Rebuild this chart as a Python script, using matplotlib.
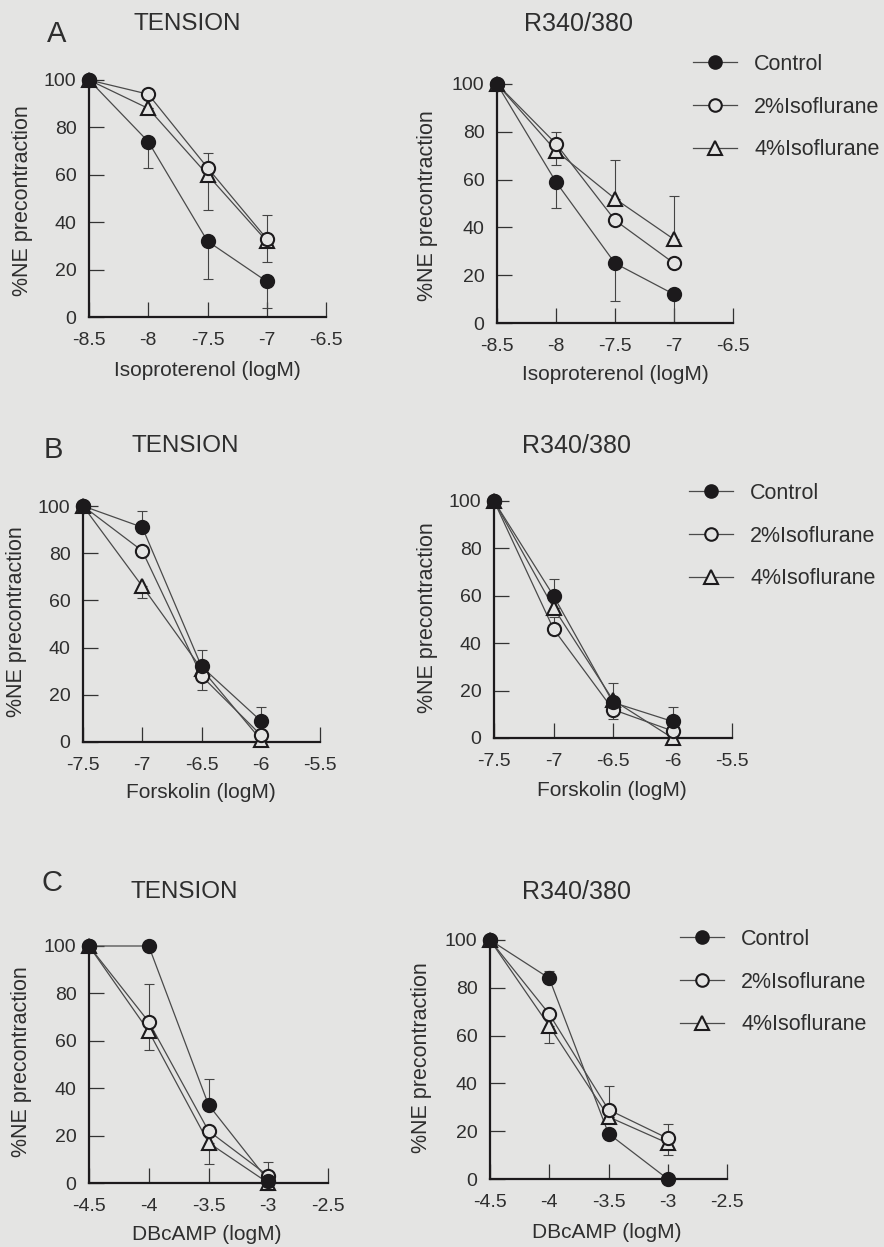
import matplotlib
matplotlib.use("Agg")
import matplotlib.pyplot as plt
import numpy as np

plt.rcParams['font.family'] = ['Liberation Sans', 'DejaVu Sans']

BG = '#e4e4e3'
INK = '#1c1a1c'
TXT = '#2e2e2e'

series_names = ['Control', '2%Isoflurane', '4%Isoflurane']

# ---------------- Panel A: Isoproterenol ----------------
iso_x = [-8.5, -8.0, -7.5, -7.0]
iso_ticks = [-8.5, -8, -7.5, -7, -6.5]
iso_tick_labels = ['-8.5', '-8', '-7.5', '-7', '-6.5']

a_ten_ctrl = [100, 74, 32, 15]
a_ten_ctrl_lo = [0, 11, 16, 11]
a_ten_ctrl_hi = [0, 0, 0, 0]
a_ten_iso2 = [100, 94, 63, 33]
a_ten_iso2_lo = [0, 0, 0, 0]
a_ten_iso2_hi = [0, 0, 6, 10]
a_ten_iso4 = [100, 88, 60, 32]
a_ten_iso4_lo = [0, 0, 15, 9]
a_ten_iso4_hi = [0, 0, 0, 0]

a_rat_ctrl = [100, 59, 25, 12]
a_rat_ctrl_lo = [0, 11, 16, 12]
a_rat_ctrl_hi = [0, 0, 0, 0]
a_rat_iso2 = [100, 75, 43, 25]
a_rat_iso2_lo = [0, 0, 0, 0]
a_rat_iso2_hi = [0, 5, 0, 0]
a_rat_iso4 = [100, 72, 52, 35]
a_rat_iso4_lo = [0, 6, 0, 0]
a_rat_iso4_hi = [0, 0, 16, 18]

# ---------------- Panel B: Forskolin ----------------
fsk_x = [-7.5, -7.0, -6.5, -6.0]
fsk_ticks = [-7.5, -7, -6.5, -6, -5.5]
fsk_tick_labels = ['-7.5', '-7', '-6.5', '-6', '-5.5']

b_ten_ctrl = [100, 91, 32, 9]
b_ten_ctrl_lo = [0, 0, 0, 0]
b_ten_ctrl_hi = [0, 7, 7, 6]
b_ten_iso2 = [100, 81, 28, 3]
b_ten_iso2_lo = [0, 0, 6, 0]
b_ten_iso2_hi = [0, 0, 0, 0]
b_ten_iso4 = [100, 66, 31, 1]
b_ten_iso4_lo = [0, 5, 0, 0]
b_ten_iso4_hi = [0, 0, 0, 0]

b_rat_ctrl = [100, 60, 15, 7]
b_rat_ctrl_lo = [0, 0, 0, 0]
b_rat_ctrl_hi = [0, 7, 0, 6]
b_rat_iso2 = [100, 46, 12, 3]
b_rat_iso2_lo = [0, 0, 4, 0]
b_rat_iso2_hi = [0, 5, 0, 0]
b_rat_iso4 = [100, 55, 16, 0]
b_rat_iso4_lo = [0, 0, 0, 0]
b_rat_iso4_hi = [0, 0, 7, 0]

# ---------------- Panel C: DBcAMP ----------------
db_x = [-4.5, -4.0, -3.5, -3.0]
db_ticks = [-4.5, -4, -3.5, -3, -2.5]
db_tick_labels = ['-4.5', '-4', '-3.5', '-3', '-2.5']

c_ten_ctrl = [100, 100, 33, 1]
c_ten_ctrl_lo = [0, 0, 0, 0]
c_ten_ctrl_hi = [0, 0, 11, 0]
c_ten_iso2 = [100, 68, 22, 3]
c_ten_iso2_lo = [0, 0, 0, 0]
c_ten_iso2_hi = [0, 16, 0, 6]
c_ten_iso4 = [100, 64, 17, 0]
c_ten_iso4_lo = [0, 8, 9, 3]
c_ten_iso4_hi = [0, 0, 0, 0]

c_rat_ctrl = [100, 84, 19, 0]
c_rat_ctrl_lo = [0, 0, 0, 0]
c_rat_ctrl_hi = [0, 3, 0, 0]
c_rat_iso2 = [100, 69, 29, 17]
c_rat_iso2_lo = [0, 0, 0, 0]
c_rat_iso2_hi = [0, 0, 10, 6]
c_rat_iso4 = [100, 64, 26, 15]
c_rat_iso4_lo = [0, 7, 0, 5]
c_rat_iso4_hi = [0, 0, 0, 0]

y_ticks = [0, 20, 40, 60, 80, 100]

W, H = 884, 1247
fig = plt.figure(figsize=(W / 100, H / 100), dpi=100, facecolor=BG)


def px_axes(x0, x1, y0, y1):
    # y0 = pixel row of value 0, y1 = pixel row of value 100
    return fig.add_axes([x0 / W, 1 - y0 / H, (x1 - x0) / W, (y0 - y1) / H])


styles = [
    dict(marker='o', mfc=INK, mec=INK, ms=9.5),
    dict(marker='o', mfc=BG, mec=INK, ms=9.5),
    dict(marker='^', mfc=BG, mec=INK, ms=10),
]


def draw_panel(ax, x, ticks, tick_labels, data, xlabel):
    ax.set_facecolor('none')
    for i, (y, lo, hi) in enumerate(data):
        ax.errorbar(x, y, yerr=[lo, hi], fmt='none', ecolor='#444444',
                    elinewidth=0.8, capsize=3.6, capthick=0.8, clip_on=False,
                    zorder=2)
        ax.plot(x, y, '-', color='#4a4a4a', lw=0.9, clip_on=False, zorder=3)
    for i, (y, lo, hi) in enumerate(data):
        st = styles[i]
        ax.plot(x, y, linestyle='none', marker=st['marker'],
                markerfacecolor=st['mfc'], markeredgecolor=st['mec'],
                markersize=st['ms'], markeredgewidth=1.5, clip_on=False,
                zorder=4 + (2 - i))
    ax.set_xlim(ticks[0], ticks[-1])
    ax.set_ylim(0, 100)
    ax.set_xticks(ticks)
    ax.set_xticklabels(tick_labels)
    ax.set_yticks(y_ticks)
    ax.set_yticklabels([str(v) for v in y_ticks])
    for s in ['top', 'right']:
        ax.spines[s].set_visible(False)
    for s in ['left', 'bottom']:
        ax.spines[s].set_linewidth(1.6)
        ax.spines[s].set_color(INK)
    ax.tick_params(direction='in', length=11, width=0.9, color='#333333',
                   labelsize=14, labelcolor=TXT, pad=9)
    ax.tick_params(axis='x', pad=11)
    ax.set_xlabel(xlabel, fontsize=15, color=TXT)
    ax.set_ylabel('%NE precontraction', fontsize=15.5, color=TXT)


def place_labels(ax, box, xl_px, yl_px):
    x0, x1, y0, y1 = box
    w = x1 - x0
    h = y0 - y1
    ax.xaxis.set_label_coords((xl_px[0] - x0) / w, (y0 - xl_px[1]) / h)
    ax.yaxis.set_label_coords((yl_px[0] - x0) / w, (y0 - yl_px[1]) / h)
    ax.xaxis.label.set_va('center')
    ax.yaxis.label.set_va('center')


def legend(ax, fx, fy):
    from matplotlib.lines import Line2D
    handles = []
    for st in styles:
        handles.append(Line2D([0], [0], color='#4a4a4a', lw=0.9,
                              marker=st['marker'], markerfacecolor=st['mfc'],
                              markeredgecolor=st['mec'], markersize=st['ms'] * 0.95,
                              markeredgewidth=1.5))
    leg = ax.legend(handles, series_names, loc='upper left',
                    bbox_to_anchor=(fx / W, 1 - fy / H),
                    bbox_transform=fig.transFigure, frameon=False,
                    fontsize=15.5, handlelength=2.05, handletextpad=0.8,
                    labelspacing=1.0, borderpad=0, borderaxespad=0)
    for t in leg.get_texts():
        t.set_color(TXT)


panels = [
    ((89, 326, 317, 80), iso_x, iso_ticks, iso_tick_labels,
     [(a_ten_ctrl, a_ten_ctrl_lo, a_ten_ctrl_hi),
      (a_ten_iso2, a_ten_iso2_lo, a_ten_iso2_hi),
      (a_ten_iso4, a_ten_iso4_lo, a_ten_iso4_hi)],
     'Isoproterenol (logM)', (207, 370), (23, 201)),
    ((497, 733, 323, 84), iso_x, iso_ticks, iso_tick_labels,
     [(a_rat_ctrl, a_rat_ctrl_lo, a_rat_ctrl_hi),
      (a_rat_iso2, a_rat_iso2_lo, a_rat_iso2_hi),
      (a_rat_iso4, a_rat_iso4_lo, a_rat_iso4_hi)],
     'Isoproterenol (logM)', (615, 374), (428, 206)),
    ((83, 320, 742, 506), fsk_x, fsk_ticks, fsk_tick_labels,
     [(b_ten_ctrl, b_ten_ctrl_lo, b_ten_ctrl_hi),
      (b_ten_iso2, b_ten_iso2_lo, b_ten_iso2_hi),
      (b_ten_iso4, b_ten_iso4_lo, b_ten_iso4_hi)],
     'Forskolin (logM)', (201, 792), (17, 622)),
    ((494, 732, 738, 501), fsk_x, fsk_ticks, fsk_tick_labels,
     [(b_rat_ctrl, b_rat_ctrl_lo, b_rat_ctrl_hi),
      (b_rat_iso2, b_rat_iso2_lo, b_rat_iso2_hi),
      (b_rat_iso4, b_rat_iso4_lo, b_rat_iso4_hi)],
     'Forskolin (logM)', (612, 791), (427, 618)),
    ((89, 328, 1183, 946), db_x, db_ticks, db_tick_labels,
     [(c_ten_ctrl, c_ten_ctrl_lo, c_ten_ctrl_hi),
      (c_ten_iso2, c_ten_iso2_lo, c_ten_iso2_hi),
      (c_ten_iso4, c_ten_iso4_lo, c_ten_iso4_hi)],
     'DBcAMP (logM)', (207, 1234), (22, 1062)),
    ((490, 727, 1179, 940), db_x, db_ticks, db_tick_labels,
     [(c_rat_ctrl, c_rat_ctrl_lo, c_rat_ctrl_hi),
      (c_rat_iso2, c_rat_iso2_lo, c_rat_iso2_hi),
      (c_rat_iso4, c_rat_iso4_lo, c_rat_iso4_hi)],
     'DBcAMP (logM)', (607, 1233), (422, 1058)),
]

axes = []
for box, x, ticks, tl, data, xl, xlp, ylp in panels:
    ax = px_axes(*box)
    draw_panel(ax, x, ticks, tl, data, xl)
    place_labels(ax, box, xlp, ylp)
    axes.append(ax)

legend(axes[1], 693, 54)
legend(axes[3], 689, 483)
legend(axes[5], 680, 929)


def ftext(x, y, s, size):
    fig.text(x / W, 1 - y / H, s, fontsize=size, color=TXT,
             ha='center', va='center')


for letter, lx, ly, ty, tx_t, tx_r in [('A', 57, 34, 24, 187, 579),
                                       ('B', 53, 450, 446, 185, 577),
                                       ('C', 52, 883, 892, 184, 577)]:
    ftext(lx, ly, letter, 21)
    ftext(tx_t, ty, 'TENSION', 17.5)
    ftext(tx_r, ty, 'R340/380', 18)

fig.savefig('out.png', dpi=100, facecolor=BG)
